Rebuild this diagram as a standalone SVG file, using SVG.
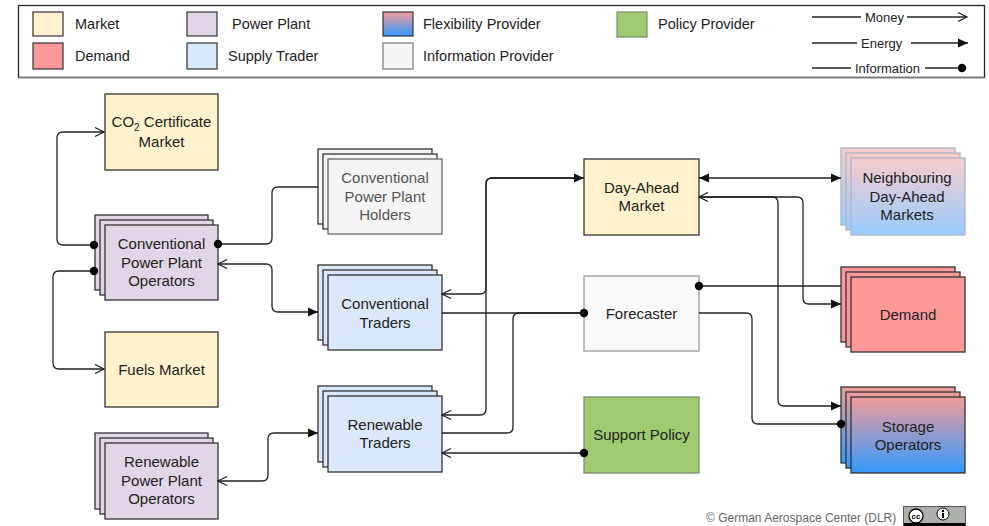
<svg xmlns="http://www.w3.org/2000/svg" width="989" height="526" viewBox="0 0 989 526">
<defs>
<linearGradient id="flex" x1="0" y1="0" x2="0" y2="1">
<stop offset="0" stop-color="#F19C99"/>
<stop offset="1" stop-color="#3399FF"/>
</linearGradient>
<marker id="open" viewBox="0 0 12 12" refX="11" refY="6" markerWidth="12" markerHeight="12" markerUnits="userSpaceOnUse" orient="auto-start-reverse" overflow="visible"><path d="M2,1.5 L11,6 L2,10.5" fill="none" stroke="#222" stroke-width="1.3"/></marker>
<marker id="fill" viewBox="0 0 12 12" refX="11" refY="6" markerWidth="12" markerHeight="12" markerUnits="userSpaceOnUse" orient="auto-start-reverse" overflow="visible"><path d="M1,1.5 L11,6 L1,10.5 z" fill="#111"/></marker>
<marker id="dot" viewBox="0 0 12 12" refX="6" refY="6" markerWidth="12" markerHeight="12" markerUnits="userSpaceOnUse" overflow="visible"><circle cx="6" cy="6" r="4.2" fill="#000"/></marker>
</defs>
<style>
text{font-family:"Liberation Sans",Arial,sans-serif;fill:#222}
.lbl{font-size:15px;text-anchor:middle}
.leg{font-size:14.5px}
.legs{font-size:13px}
.sw{stroke:#333;stroke-width:1.2}
.box{stroke:#333;stroke-width:1.3}
.mk{fill:#fff2cc}
.pp{fill:#e1d5e7}
.tr{fill:#dae8fc}
.dm{fill:#ff9999}
.fx{fill:url(#flex)}
.ip{fill:#f5f5f5;stroke:#666;stroke-width:1.3}
.fc{fill:#fafafa;stroke:#9a9a9a;stroke-width:1.3}
.pol{fill:#9fca72;stroke:#7a8f6a;stroke-width:1.3}
.c{fill:none;stroke:#222;stroke-width:1.3}
</style>

<g id="legend">
<rect x="18.5" y="5.5" width="966" height="72" fill="#fff" stroke="#222" stroke-width="1.3"/>
<line x1="18.5" y1="77.5" x2="984.5" y2="77.5" stroke="#777" stroke-width="1.5"/>
<rect class="sw mk" x="33" y="12" width="30" height="24"/>
<text class="leg" x="75" y="29">Market</text>
<rect class="sw dm" x="33" y="43" width="30" height="26"/>
<text class="leg" x="75" y="61">Demand</text>
<rect class="sw pp" x="187" y="12" width="30" height="24"/>
<text class="leg" x="232" y="29">Power Plant</text>
<rect class="sw tr" x="187" y="43" width="30" height="26"/>
<text class="leg" x="228" y="61">Supply Trader</text>
<rect class="sw fx" x="383" y="12" width="30" height="24"/>
<text class="leg" x="423" y="29">Flexibility Provider</text>
<rect x="383" y="43" width="30" height="26" fill="#f5f5f5" stroke="#777" stroke-width="1.2"/>
<text class="leg" x="423" y="61">Information Provider</text>
<rect x="617" y="12" width="30" height="25" fill="#9fca72" stroke="#7a8f6a" stroke-width="1.2"/>
<text class="leg" x="658" y="29">Policy Provider</text>
<path class="c" d="M812,17 H861"/>
<text class="legs" x="865" y="21.5">Money</text>
<path class="c" d="M907,17 H967" marker-end="url(#open)"/>
<path class="c" d="M812,43 H857"/>
<text class="legs" x="861" y="47.5">Energy</text>
<path class="c" d="M911,43 H968" marker-end="url(#fill)"/>
<path class="c" d="M812,68 H851"/>
<text class="legs" x="855" y="72.5">Information</text>
<path class="c" d="M925,68 H962" marker-end="url(#dot)"/>
</g>

<g id="co2-market">
<rect class="box mk" x="105" y="94" width="113" height="76"/>
<text class="lbl" x="161.5" y="127">CO<tspan dy="4" font-size="10">2</tspan><tspan dy="-4"> Certificate</tspan></text>
<text class="lbl" x="161.5" y="147">Market</text>
</g>

<g id="conventional-pp-operators">
<rect class="box pp" x="95" y="215" width="113" height="75"/>
<rect class="box pp" x="100" y="220" width="113" height="75"/>
<rect class="box pp" x="105" y="225" width="113" height="75"/>
<text class="lbl" x="161.5" y="249">Conventional</text>
<text class="lbl" x="161.5" y="267.5">Power Plant</text>
<text class="lbl" x="161.5" y="286">Operators</text>
</g>

<g id="fuels-market">
<rect class="box mk" x="105" y="332" width="113" height="75"/>
<text class="lbl" x="161.5" y="374.5">Fuels Market</text>
</g>

<g id="renewable-pp-operators">
<rect class="box pp" x="95" y="433" width="113" height="76"/>
<rect class="box pp" x="100" y="438" width="113" height="76"/>
<rect class="box pp" x="105" y="443" width="113" height="76"/>
<text class="lbl" x="161.5" y="467">Renewable</text>
<text class="lbl" x="161.5" y="485.5">Power Plant</text>
<text class="lbl" x="161.5" y="504">Operators</text>
</g>

<g id="conventional-pp-holders">
<rect class="box" fill="#f5f5f5" x="318" y="149" width="114" height="75"/>
<rect class="box" fill="#f5f5f5" x="323" y="154" width="114" height="75"/>
<rect class="ip" x="328" y="159" width="114" height="75"/>
<text class="lbl" x="385" y="183" style="fill:#555">Conventional</text>
<text class="lbl" x="385" y="201.5" style="fill:#555">Power Plant</text>
<text class="lbl" x="385" y="220" style="fill:#555">Holders</text>
</g>

<g id="conventional-traders">
<rect class="box tr" x="318" y="265" width="114" height="75"/>
<rect class="box tr" x="323" y="270" width="114" height="75"/>
<rect class="box tr" x="328" y="275" width="114" height="75"/>
<text class="lbl" x="385" y="309">Conventional</text>
<text class="lbl" x="385" y="327.5">Traders</text>
</g>

<g id="renewable-traders">
<rect class="box tr" x="318" y="386" width="114" height="76"/>
<rect class="box tr" x="323" y="391" width="114" height="76"/>
<rect class="box tr" x="328" y="396" width="114" height="76"/>
<text class="lbl" x="385" y="429.5">Renewable</text>
<text class="lbl" x="385" y="448">Traders</text>
</g>

<g id="day-ahead-market">
<rect class="box mk" x="584" y="159" width="115" height="76"/>
<text class="lbl" x="641.5" y="192.5">Day-Ahead</text>
<text class="lbl" x="641.5" y="211">Market</text>
</g>

<g id="forecaster">
<rect class="fc" x="584" y="276" width="115" height="75"/>
<text class="lbl" x="641.5" y="318.5">Forecaster</text>
</g>

<g id="support-policy">
<rect class="pol" x="584" y="397" width="115" height="76"/>
<text class="lbl" x="641.5" y="440">Support Policy</text>
</g>

<g id="neighbouring-markets">
<g opacity="0.5">
<rect class="fx" stroke="#5a6d88" stroke-width="1.3" x="841" y="148" width="114" height="77"/>
<rect class="fx" stroke="#5a6d88" stroke-width="1.3" x="846" y="153" width="114" height="77"/>
<rect class="fx" stroke="#5a6d88" stroke-width="1.3" x="851" y="158" width="114" height="77"/>
</g>
<text class="lbl" x="907" y="183">Neighbouring</text>
<text class="lbl" x="907" y="201.5">Day-Ahead</text>
<text class="lbl" x="907" y="220">Markets</text>
</g>

<g id="demand">
<rect class="box dm" x="841" y="267" width="114" height="75"/>
<rect class="box dm" x="846" y="272" width="114" height="75"/>
<rect class="box dm" x="851" y="277" width="114" height="75"/>
<text class="lbl" x="908" y="319.5">Demand</text>
</g>

<g id="storage-operators">
<rect class="box fx" x="841" y="387" width="114" height="76"/>
<rect class="box fx" x="846" y="392" width="114" height="76"/>
<rect class="box fx" x="851" y="397" width="114" height="76"/>
<text class="lbl" x="908" y="431.5">Storage</text>
<text class="lbl" x="908" y="450">Operators</text>
</g>

<g id="connectors">
<path class="c" d="M94,245 H63 Q57,245 57,239 V138 Q57,132 63,132 H104" marker-start="url(#dot)" marker-end="url(#open)"/>
<path class="c" d="M94,271 H59 Q53,271 53,277 V363 Q53,369 59,369 H104" marker-start="url(#dot)" marker-end="url(#open)"/>
<path class="c" d="M218,244 H266 Q272,244 272,238 V193 Q272,187 278,187 H318" marker-start="url(#dot)"/>
<path class="c" d="M218,264 H266 Q272,264 272,270 V306 Q272,312 278,312 H318" marker-start="url(#open)" marker-end="url(#fill)"/>
<path class="c" d="M218,481 H262 Q268,481 268,475 V439 Q268,433 274,433 H318" marker-start="url(#open)" marker-end="url(#fill)"/>
<path class="c" d="M442,294 H480 Q486,294 486,288 V184 Q486,178 492,178 H584" marker-start="url(#open)" marker-end="url(#fill)"/>
<path class="c" d="M442,415 H480 Q486,415 486,409 V184 Q486,178 492,178 H584" marker-start="url(#open)"/>
<path class="c" d="M442,313 H584" marker-end="url(#dot)"/>
<path class="c" d="M584,313 H519 Q513,313 513,319 V427 Q513,433 507,433 H442"/>
<path class="c" d="M584,453 H442" marker-start="url(#dot)" marker-end="url(#open)"/>
<path class="c" d="M699,178 H841" marker-start="url(#fill)" marker-end="url(#fill)"/>
<path class="c" d="M699,197 H772 Q778,197 778,203 V400 Q778,406 784,406 H841" marker-start="url(#open)" marker-end="url(#fill)"/>
<path class="c" d="M699,197 H797 Q803,197 803,203 V298 Q803,304 809,304 H841" marker-end="url(#fill)"/>
<path class="c" d="M699,286 H841" marker-start="url(#dot)"/>
<path class="c" d="M699,313 H746 Q752,313 752,319 V418 Q752,424 758,424 H841" marker-end="url(#dot)"/>
</g>

<g id="copyright">
<text x="706" y="522" font-size="12" style="fill:#666">© German Aerospace Center (DLR)</text>
<rect x="903.5" y="506.5" width="62" height="22" fill="#abb1aa" stroke="#555" stroke-width="1"/>
<circle cx="916" cy="516" r="7" fill="#fff" stroke="#000" stroke-width="1.3"/>
<text x="916" y="519" font-size="8" text-anchor="middle" style="fill:#000;font-weight:bold">cc</text>
<circle cx="943" cy="514" r="6" fill="#fff" stroke="#000" stroke-width="1"/>
<circle cx="943" cy="511" r="1.2" fill="#000"/>
<rect x="942" y="513" width="2" height="5" fill="#000"/>
<rect x="904" y="523" width="61" height="4" fill="#000"/>
</g>
</svg>
